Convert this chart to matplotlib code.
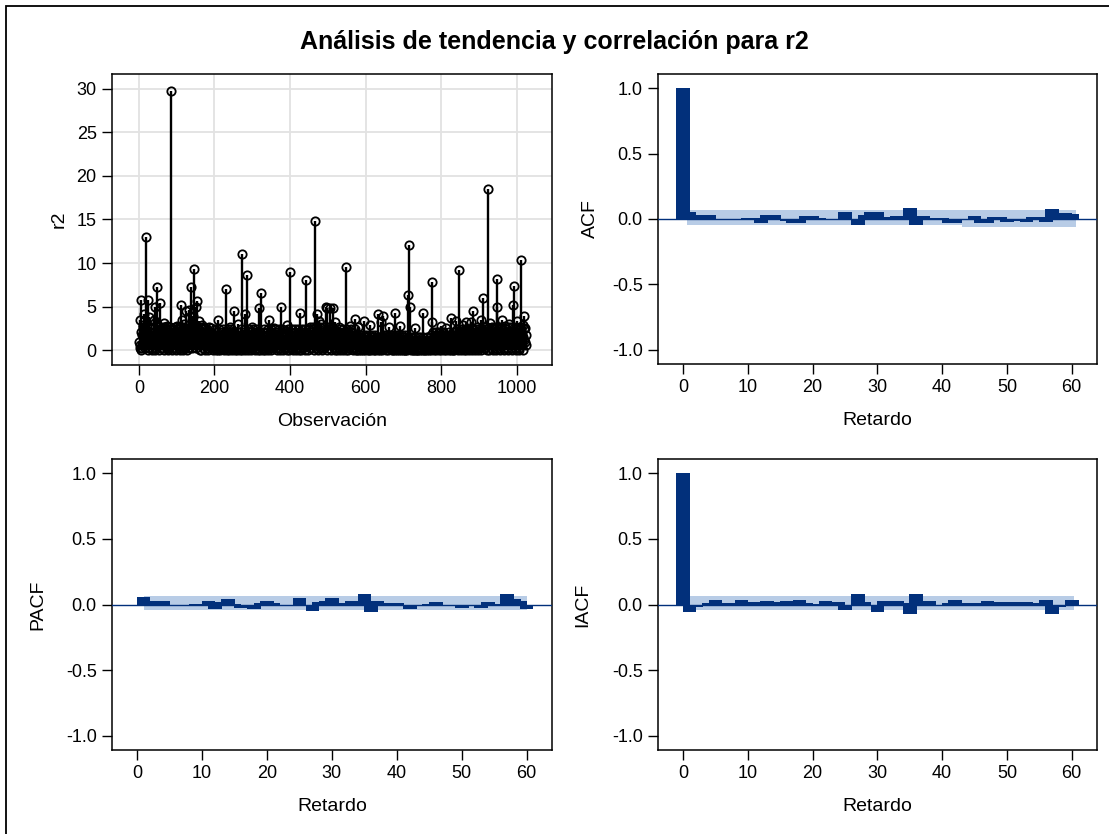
import numpy as np
import matplotlib
matplotlib.use('Agg')
import matplotlib.pyplot as plt
from matplotlib.patches import Rectangle

plt.rcParams['font.family'] = ['Liberation Sans', 'DejaVu Sans']
plt.rcParams['axes.unicode_minus'] = False

# r2 background level, one digit per observation (0.3 units per step)
r2_base_rows = [
    "35214076 18293054 17283960 41527382 91046382 71905428 16390274 51836294",
    "17039425 81630427 19583602 47183592 10647385 91204637 81502946 17382905",
    "62840195 37261845 93572016 48937521 06403957 28164033 75281640 95372816",
    "24036152 83014726 30518240 73615283 01472630 51824073 61528301 47263051",
    "31504261 73052814 60327150 84261370 52481630 27501482 63071524 86031725",
    "04251630 72814305 26174802 36158042 71536082 41357026 48130527 16480321",
    "52136407 28153064 21783506 14283706 15243807 16253048 17263508 14627308",
    "48295173 64192850 73641928 50736419 28510364 19285073 64092851 73640928",
    "37162048 51730625 14807362 15048371 62051483 70621504 83716205 14837062",
    "20415306 24105326 01452306 14250316 04253106 24150326 10425316 04215036",
    "15032406 15320416 23501406 25310420 63150426 31052406 13520416 30251406",
    "03124031 52041302 51403120 41503204 15023140 52130412 50314021 53041203",
    "31520642 17305162 74031265 04713205 64173026 51470321 65407213 05462170",
    "40617235 81406237 15082461 37052816 40372518 06427315 08426130 75284160",
    "52837164 90528371 64915283 70649052 83716490 52837164 90528371 64905283",
    "37261509 48372615 09483726 15094837 26150948 37261509 48372615 09483726",
]
# visible spikes: observation number and r2 value
peak_obs = [2, 5, 10, 14, 18, 23, 28, 32, 39, 43, 47, 49, 55, 60, 66, 75, 86,
            100, 112, 113, 120, 126, 133, 139, 142, 146, 150, 154, 160, 168, 175,
            190, 209, 231, 240, 253, 262, 272, 281, 287, 300, 317, 323, 345, 358,
            377, 392, 400, 426, 441, 465, 470, 476, 482, 494, 497, 505, 514, 520,
            530, 549, 559, 573, 580, 596, 612, 632, 640, 647, 663, 678, 690, 711,
            715, 717, 730, 751, 775, 776, 800, 812, 827, 838, 847, 858, 865, 878,
            884, 895, 905, 911, 925, 930, 938, 947, 948, 961, 968, 980, 991, 992,
            1000, 1011, 1015, 1018, 1022]
peak_val = [3.5, 5.8, 2.9, 4.1, 13.0, 5.8, 3.8, 2.6, 3.5, 4.9, 3.0, 7.2, 5.4, 2.6, 3.1, 2.8, 29.8,
            2.8, 5.2, 3.5, 3.0, 4.5, 4.6, 7.2, 3.9, 9.3, 5.0, 5.6, 3.3, 2.9, 2.6,
            2.6, 3.5, 7.0, 2.7, 4.5, 3.0, 11.0, 4.2, 8.6, 2.7, 4.8, 6.6, 3.5, 2.5,
            4.95, 2.9, 9.0, 4.3, 8.0, 14.8, 4.2, 3.4, 3.0, 5.0, 4.8, 4.8, 4.8, 3.2,
            2.7, 9.6, 2.8, 3.6, 2.7, 3.3, 2.9, 4.1, 3.2, 3.9, 2.7, 4.3, 2.8, 6.3,
            12.1, 4.9, 2.5, 4.3, 7.8, 3.2, 2.8, 2.6, 3.7, 3.3, 9.15, 2.9, 3.2, 3.2,
            4.5, 2.7, 3.5, 6.0, 18.5, 3.1, 2.6, 8.15, 5.0, 3.5, 2.8, 3.0, 5.2, 7.4,
            3.3, 10.35, 2.9, 3.9, 2.5]

acf_lags = list(range(0, 61))
acf = [1.0, 0.056, 0.03, 0.025, 0.03, 0.0, -0.005, 0.0, 0.003, -0.002,
       0.01, 0.01, -0.03, 0.03, 0.03, -0.01, -0.012, -0.03, -0.028, 0.025,
       0.02, 0.01, 0.0, -0.002, 0.0, 0.056, 0.0, -0.045, 0.03, 0.056,
       0.05, 0.012, 0.01, 0.02, 0.02, 0.082, -0.046, 0.026, 0.01, 0.008,
       0.005, -0.03, -0.03, 0.0, -0.002, 0.02, -0.03, -0.028, 0.015, 0.012,
       -0.02, -0.015, 0.0, -0.02, 0.015, 0.015, -0.02, 0.08, 0.04, 0.045,
       0.04]
pacf_lags = list(range(1, 61))
pacf = [0.054, 0.03, 0.02, 0.03, 0.0, 0.0, -0.005, 0.0, 0.005, 0.0,
        0.03, -0.037, 0.02, 0.044, 0.005, -0.03, -0.01, -0.037, 0.01, 0.025,
        0.012, 0.0, -0.005, 0.0, 0.049, 0.0, -0.049, 0.02, 0.03, 0.049,
        0.012, 0.01, 0.03, 0.01, 0.081, -0.057, 0.03, 0.012, 0.01, 0.012,
        -0.005, -0.037, 0.0, 0.0, 0.005, 0.017, 0.0, -0.005, 0.0, -0.025,
        -0.005, 0.0, -0.025, 0.017, 0.005, 0.0, 0.081, 0.042, 0.03, -0.037]
iacf_lags = list(range(0, 61))
iacf = [1.0, -0.055, -0.02, -0.015, 0.015, 0.037, 0.015, 0.01, 0.015, 0.037,
        0.02, 0.0, 0.02, 0.025, 0.02, 0.02, 0.025, 0.015, 0.037, 0.015,
        0.0, 0.005, 0.025, 0.02, 0.02, -0.042, 0.0, 0.08, 0.02, 0.0,
        -0.055, 0.025, 0.02, 0.025, 0.01, -0.07, 0.08, 0.03, 0.025, 0.0,
        0.0, 0.01, 0.037, 0.015, 0.012, 0.015, 0.01, 0.025, 0.0, 0.02,
        0.02, 0.02, 0.02, 0.02, 0.01, 0.0, 0.037, -0.07, -0.017, -0.01,
        0.037]

# two standard error bands (lag edges, lower, upper)
acf_band_x = [0.6, 43.0, 60.6]
acf_band_lo = [-0.047, -0.062, -0.062]
acf_band_hi = [0.07, 0.07, 0.07]
pacf_band_x = [1.1, 60.1]
pacf_band_lo = [-0.045, -0.045]
pacf_band_hi = [0.067, 0.067]
iacf_band_x = [1.0, 60.3]
iacf_band_lo = [-0.045, -0.045]
iacf_band_hi = [0.065, 0.065]

digits = "".join(r.replace(" ", "") for r in r2_base_rows)
r2 = np.array([int(d) for d in digits], dtype=float) * 0.3
obs = np.arange(1, len(r2) + 1)
for o, v in zip(peak_obs, peak_val):
    r2[o - 1] = v

NAVY = '#02307b'
BAND = '#b8cce6'
W, H = 1109, 834

fig = plt.figure(figsize=(W / 100, H / 100), dpi=100)
fig.add_artist(Rectangle((6 / W, -0.05), 1.2, 1 - 6 / H + 0.05, transform=fig.transFigure,
                         fill=False, edgecolor='black', linewidth=1.3))
fig.text(0.5, 1 - 42 / H, "Análisis de tendencia y correlación para r2",
         ha='center', va='center', fontsize=18, fontweight='bold')


def make_ax(left, top, right, bottom):
    ax = fig.add_axes([left / W, 1 - bottom / H, (right - left) / W, (bottom - top) / H])
    for s in ax.spines.values():
        s.set_linewidth(1.1)
    ax.tick_params(length=7, width=1.0, labelsize=13, pad=4)
    return ax


def style_label(ax, xl, yl, ylx):
    ax.set_xlabel(xl, fontsize=14, va='center')
    ax.xaxis.set_label_coords(0.5, -0.195)
    ax.set_ylabel(yl, fontsize=14, va='center')
    ax.yaxis.set_label_coords(ylx, 0.5)


# series plot
ax = make_ax(112, 74, 552, 365)
ax.set_axisbelow(True)
ax.grid(True, color='#e2e2e2', linewidth=1.3)
ax.vlines(obs, 0, r2, color='black', linewidth=1.7)
ax.plot(obs, r2, 'o', mfc='none', mec='black', ms=6, mew=1.3)
ax.set_xlim(-71, 1093)
ax.set_ylim(-1.7, 31.7)
ax.set_xticks(range(0, 1001, 200))
ax.set_yticks(range(0, 31, 5))
style_label(ax, 'Observación', 'r2', -0.12)


def corr_panel(left, top, right, bottom, x, y, bx, blo, bhi, name, ylx):
    ax = make_ax(left, top, right, bottom)
    ax.fill_between(bx, blo, bhi, step='post', color=BAND, linewidth=0, zorder=1)
    ax.bar(x, y, width=2.1, color=NAVY, linewidth=0, zorder=2)
    ax.axhline(0, color=NAVY, linewidth=1.0, zorder=3)
    ax.set_xlim(-3.86, 63.9)
    ax.set_ylim(-1.107, 1.107)
    ax.set_xticks(range(0, 61, 10))
    ax.set_yticks([-1, -0.5, 0, 0.5, 1])
    ax.set_yticklabels(['-1.0', '-0.5', '0.0', '0.5', '1.0'])
    style_label(ax, 'Retardo', name, ylx)
    return ax


corr_panel(658, 74, 1097, 364, acf_lags, acf, acf_band_x, acf_band_lo, acf_band_hi, 'ACF', -0.155)
corr_panel(112, 459, 552, 750, pacf_lags, pacf, pacf_band_x, pacf_band_lo, pacf_band_hi, 'PACF', -0.168)
corr_panel(658, 459, 1097, 750, iacf_lags, iacf, iacf_band_x, iacf_band_lo, iacf_band_hi, 'IACF', -0.171)

fig.savefig('out.png', dpi=100)
